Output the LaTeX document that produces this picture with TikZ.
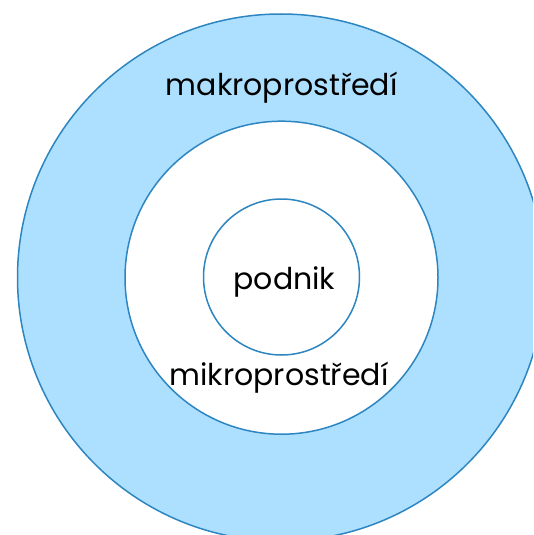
\documentclass[tikz,border=0pt]{standalone}
\usepackage{fontspec}
\setmainfont{Poppins}
\definecolor{ringblue}{RGB}{46,134,193}
\definecolor{ringfill}{RGB}{173,224,255}
\tikzset{
  ring/.style={circle, draw=ringblue, line width=1.5pt, inner sep=0pt},
  lbl/.style={font=\fontsize{30}{34}\selectfont, text=black, inner sep=0pt, anchor=base}
}
\begin{document}
\begin{tikzpicture}[x=1pt,y=-1pt]
\useasboundingbox (0,0) rectangle (533,535);
\begin{scope}
\clip (0,0) rectangle (533,535);
\node[ring, fill=ringfill, minimum size=527pt] (outer) at (281,277.5) {};
\node[ring, fill=white, minimum size=313pt] (middle) at (281.5,277.7) {};
\node[ring, fill=white, minimum size=156pt] (inner) at (281.5,277) {};
\end{scope}
\node[lbl] (makro) at (281.7,95) {makroprostředí};
\node[lbl] (podnik) at (284.5,289) {podnik};
\node[lbl] (mikro) at (279,385) {mikroprostředí};
\end{tikzpicture}
\end{document}
